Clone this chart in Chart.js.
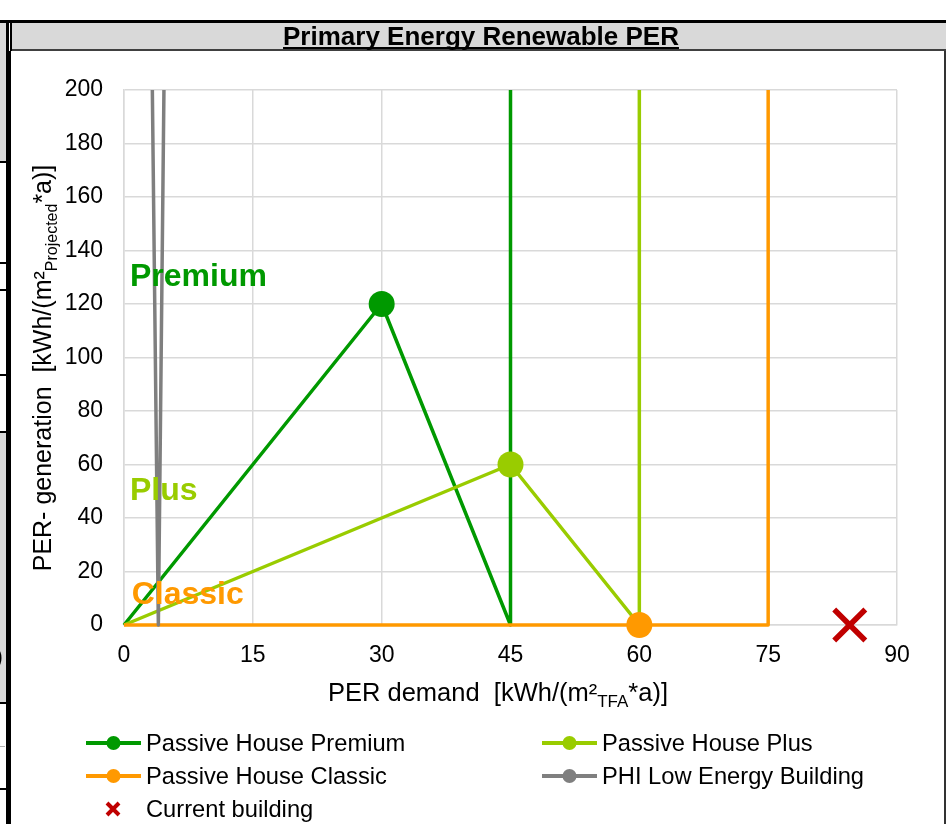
<!DOCTYPE html>
<html>
<head>
<meta charset="utf-8">
<script src="https://cdn.jsdelivr.net/npm/chart.js@4.4.1/dist/chart.umd.min.js"></script>
<style>
  html, body { margin: 0; padding: 0; background: #ffffff; }
  canvas { display: block; }
</style>
</head>
<body>
<canvas id="perChart" width="946" height="824"></canvas>
<script>
// Reference lines for each certification class: origin -> target point -> demand limit -> vertical limit
const premiumDemand = [0, 30, 45, 45];
const premiumGeneration = [0, 120, 0, 200];
const plusDemand = [0, 45, 60, 60];
const plusGeneration = [0, 60, 0, 200];
const classicDemand = [0, 60, 75, 75];
const classicGeneration = [0, 0, 0, 200];
const lowEnergyDemand = [3.3, 4, 4.65];
const lowEnergyGeneration = [200, 0, 200];
const currentDemand = [84.5];
const currentGeneration = [0];

// index of the highlighted point on each class line
const markerIndex = 1;

const seriesNames = ['Passive House Premium', 'Passive House Plus', 'Passive House Classic', 'PHI Low Energy Building', 'Current building'];
const seriesColors = ['#009900', '#99cc00', '#ff9900', '#7f7f7f', '#c00000'];

// in-plot class labels: [text, demand, generation]
const classLabels = [['Premium', 0.7, 130], ['Plus', 0.7, 50], ['Classic', 0.9, 11]];

const xTickStep = 15, xMax = 90;
const yTickStep = 20, yMax = 200;

const FONT = '"Liberation Sans", Arial, sans-serif';

function toPoints(xs, ys) { return xs.map((x, i) => ({ x: x, y: ys[i] })); }
function radii(n, idx, r) { return Array.from({ length: n }, (_, i) => (i === idx ? r : 0)); }

function classDataset(name, color, xs, ys, order) {
  return {
    label: name,
    data: toPoints(xs, ys),
    showLine: true,
    clip: false,
    borderColor: color,
    backgroundColor: color,
    borderWidth: 3.5,
    borderJoinStyle: 'round',
    pointRadius: radii(xs.length, markerIndex, 13),
    pointBorderWidth: 0,
    pointHoverRadius: radii(xs.length, markerIndex, 13),
    pointBackgroundColor: color,
    tension: 0,
    order: order
  };
}

const datasets = [
  classDataset(seriesNames[0], seriesColors[0], premiumDemand, premiumGeneration, 5),
  classDataset(seriesNames[1], seriesColors[1], plusDemand, plusGeneration, 4),
  classDataset(seriesNames[2], seriesColors[2], classicDemand, classicGeneration, 3),
  {
    label: seriesNames[3],
    data: toPoints(lowEnergyDemand, lowEnergyGeneration),
    showLine: true,
    clip: false,
    borderColor: seriesColors[3],
    backgroundColor: seriesColors[3],
    borderWidth: 3.5,
    borderJoinStyle: 'round',
    pointRadius: 0,
    pointHoverRadius: 0,
    order: 2
  },
  {
    label: seriesNames[4],
    data: toPoints(currentDemand, currentGeneration),
    showLine: false,
    clip: false,
    pointStyle: 'crossRot',
    pointRadius: 22,
    pointHoverRadius: 22,
    borderColor: seriesColors[4],
    backgroundColor: seriesColors[4],
    pointBorderWidth: 5.5,
    order: 1
  }
];

// Worksheet frame, grey title band and cell borders around the chart
const sheetFrame = {
  id: 'sheetFrame',
  beforeDraw(chart) {
    const ctx = chart.ctx, W = chart.width, H = chart.height;
    ctx.save();
    ctx.fillStyle = '#ffffff';
    ctx.fillRect(0, 0, W, H);
    // left neighbouring cells
    ctx.fillStyle = '#d9d9d9';
    ctx.fillRect(0, 23, 6, 139);
    ctx.fillRect(0, 433, 6, 270);
    ctx.fillStyle = '#000000';
    [162, 263, 290, 375, 432, 703, 789].forEach(y => ctx.fillRect(0, y - 1, 6, 2));
    ctx.fillStyle = '#b0b0b0';
    ctx.fillRect(0, 746, 5, 1);
    // title band
    ctx.fillStyle = '#d9d9d9';
    ctx.fillRect(12, 23, W - 12, 26);
    ctx.fillStyle = '#000000';
    ctx.fillRect(0, 20, W, 3);
    ctx.fillStyle = '#404040';
    ctx.fillRect(12, 49, W - 12, 2);
    // vertical borders
    ctx.fillStyle = '#000000';
    ctx.fillRect(6, 20, 3, H - 20);
    ctx.fillRect(10, 20, 2, 31);
    ctx.fillRect(9, 51, 2, H - 51);
    ctx.fillStyle = '#333333';
    ctx.fillRect(944, 51, 2, H - 51);
    // clipped glyph of the neighbouring cell
    ctx.beginPath();
    ctx.rect(0, 630, 6, 50);
    ctx.clip();
    ctx.fillStyle = '#000000';
    ctx.font = '24px ' + FONT;
    ctx.textBaseline = 'alphabetic';
    ctx.fillText(')', -5, 664);
    ctx.restore();
  }
};

// draws a run of text pieces with optional sub/superscript offsets, centered on (0,0) baseline
function drawRuns(ctx, runs) {
  let total = 0;
  runs.forEach(r => { ctx.font = r.font; r.w = ctx.measureText(r.text).width; total += r.w; });
  let x = -total / 2;
  runs.forEach(r => {
    ctx.font = r.font;
    ctx.fillText(r.text, x, r.dy || 0);
    x += r.w;
  });
}

const annotations = {
  id: 'annotations',
  afterDatasetsDraw(chart) {
    const ctx = chart.ctx;
    const xs = chart.scales.x, ys = chart.scales.y;
    ctx.save();
    // class labels inside the plot
    ctx.font = 'bold 32px ' + FONT;
    ctx.textAlign = 'left';
    ctx.textBaseline = 'middle';
    classLabels.forEach((lab, i) => {
      ctx.fillStyle = seriesColors[i];
      ctx.fillText(lab[0], xs.getPixelForValue(lab[1]), ys.getPixelForValue(lab[2]));
    });
    ctx.restore();
  },
  afterDraw(chart) {
    const ctx = chart.ctx;
    ctx.save();
    ctx.fillStyle = '#000000';
    ctx.textBaseline = 'alphabetic';
    ctx.textAlign = 'left';

    // title with underline
    const title = 'Primary Energy Renewable PER';
    ctx.font = 'bold 26px ' + FONT;
    const tw = ctx.measureText(title).width;
    const tx = 481 - tw / 2;
    ctx.fillText(title, tx, 45);
    ctx.fillRect(tx, 47, tw, 2);

    // x axis title
    ctx.save();
    ctx.translate(498, 701);
    drawRuns(ctx, [
      { text: 'PER demand  [kWh/(m²', font: '25.5px ' + FONT },
      { text: 'TFA', font: '17px ' + FONT, dy: 6 },
      { text: '*a)]', font: '25.5px ' + FONT }
    ]);
    ctx.restore();

    // y axis title
    ctx.save();
    ctx.translate(51, 368);
    ctx.rotate(-Math.PI / 2);
    drawRuns(ctx, [
      { text: 'PER- generation  [kWh/(m²', font: '25px ' + FONT },
      { text: 'Projected', font: '16px ' + FONT, dy: 6 },
      { text: '*a)]', font: '25px ' + FONT }
    ]);
    ctx.restore();

    // legend
    const slots = [[86, 743], [542, 743], [86, 776], [542, 776]];
    ctx.font = '23.7px ' + FONT;
    ctx.textBaseline = 'middle';
    chart.data.datasets.slice(0, 4).forEach((ds, i) => {
      const [lx, ly] = slots[i];
      ctx.strokeStyle = ds.borderColor;
      ctx.lineWidth = 4;
      ctx.beginPath();
      ctx.moveTo(lx, ly);
      ctx.lineTo(lx + 55, ly);
      ctx.stroke();
      ctx.fillStyle = ds.borderColor;
      ctx.beginPath();
      ctx.arc(lx + 27.5, ly, 7, 0, Math.PI * 2);
      ctx.fill();
      ctx.fillStyle = '#000000';
      ctx.fillText(ds.label, lx + 60, ly + 1);
    });
    const cur = chart.data.datasets[4];
    ctx.strokeStyle = cur.borderColor;
    ctx.lineWidth = 4;
    ctx.beginPath();
    ctx.moveTo(107, 803); ctx.lineTo(119, 815);
    ctx.moveTo(119, 803); ctx.lineTo(107, 815);
    ctx.stroke();
    ctx.fillStyle = '#000000';
    ctx.fillText(cur.label, 146, 810);
    ctx.restore();
  }
};

new Chart(document.getElementById('perChart'), {
  type: 'scatter',
  data: { datasets: datasets },
  options: {
    responsive: false,
    animation: false,
    devicePixelRatio: 1,
    layout: { padding: { top: 90, right: 49, left: 0, bottom: 0 } },
    plugins: {
      legend: { display: false },
      title: { display: false },
      tooltip: { enabled: false }
    },
    events: [],
    scales: {
      x: {
        type: 'linear',
        min: 0,
        max: xMax,
        afterFit(scale) { scale.height = 199; },
        ticks: { stepSize: xTickStep, color: '#000000', font: { family: FONT, size: 23 }, padding: 17, maxRotation: 0 },
        grid: { color: '#d9d9d9', lineWidth: 1.5, drawTicks: false },
        border: { color: '#d9d9d9', width: 1.5 }
      },
      y: {
        type: 'linear',
        min: 0,
        max: yMax,
        afterFit(scale) { scale.width = 124; },
        ticks: { stepSize: yTickStep, color: '#000000', font: { family: FONT, size: 23 }, padding: 21 },
        grid: { color: '#d9d9d9', lineWidth: 1.5, drawTicks: false },
        border: { color: '#d9d9d9', width: 1.5 }
      }
    }
  },
  plugins: [sheetFrame, annotations]
});
</script>
</body>
</html>
